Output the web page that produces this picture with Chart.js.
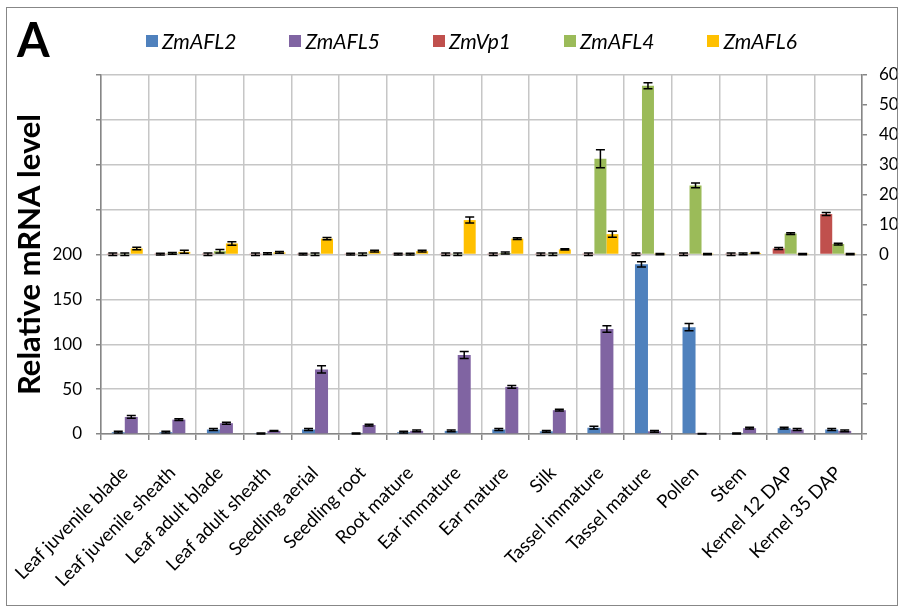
<!DOCTYPE html>
<html>
<head>
<meta charset="utf-8">
<script src="https://cdn.jsdelivr.net/npm/chart.js@4"></script>
<style>
  html, body { margin: 0; padding: 0; background: #fff; }
  #wrap { position: relative; width: 900px; height: 608px; font-family: Lato, sans-serif; }
  #frame { position: absolute; left: 6px; top: 7px; width: 892px; height: 599px; border: 1.5px solid #878787; box-sizing: border-box; pointer-events: none; }
  #panel { position: absolute; left: 17px; top: 11px; font-size: 47px; font-weight: bold; color: #000; }
  #legend { position: absolute; left: 146px; top: 28px; display: flex; gap: 53px; }
  .item { display: flex; align-items: center; font-size: 21px; font-style: italic; color: #000; }
  .box { width: 12px; height: 12px; margin-right: 4px; }
  canvas { position: absolute; left: 0; top: 0; }
</style>
</head>
<body>
<div id="wrap">
  <canvas id="myChart" width="900" height="608"></canvas>
  <div id="frame"></div>
  <div id="panel">A</div>
  <div id="legend"></div>
</div>
<script>
// tissues
const tissues = ['Leaf juvenile blade', 'Leaf juvenile sheath', 'Leaf adult blade', 'Leaf adult sheath',
  'Seedling aerial', 'Seedling root', 'Root mature', 'Ear immature', 'Ear mature', 'Silk',
  'Tassel immature', 'Tassel mature', 'Pollen', 'Stem', 'Kernel 12 DAP', 'Kernel 35 DAP']

// lower panel, left axis
const afl2 = [2, 2, 5, 0.5, 5, 0.5, 2, 3.5, 5, 3, 7, 189, 119, 0.5, 6.5, 5]
const afl2Err = [1, 1, 1, 0.5, 1, 0.5, 1, 1, 1, 1, 1.5, 3, 4, 0.5, 1, 1]
const afl5 = [19, 16, 12, 3.5, 72, 10, 3.5, 88, 52.5, 26.5, 117, 3, 0.3, 6.5, 5, 3.5]
const afl5Err = [1.5, 1, 1, 0.5, 4, 1, 1, 4, 1.5, 1, 3.5, 1, 0.3, 1, 1, 1]

// upper panel, right axis
const vp1 = [0.1, 0.1, 0.1, 0.1, 0.1, 0.1, 0.1, 0.1, 0.1, 0.1, 0.1, 0.1, 0.1, 0.1, 2.0, 13.5]
const vp1Err = [0.4, 0.3, 0.4, 0.4, 0.3, 0.3, 0.3, 0.4, 0.4, 0.4, 0.4, 0.4, 0.4, 0.4, 0.3, 0.5]
const afl4 = [0.1, 0.4, 1.1, 0.3, 0.1, 0.1, 0.1, 0.1, 0.5, 0.1, 32, 56.4, 23.1, 0.2, 7.0, 3.5]
const afl4Err = [0.4, 0.3, 0.6, 0.3, 0.4, 0.4, 0.3, 0.4, 0.3, 0.4, 3, 1, 0.8, 0.3, 0.3, 0.3]
const afl6 = [2.0, 0.9, 3.7, 0.7, 5.3, 1.1, 1.1, 11.5, 5.3, 1.7, 6.8, 0.1, 0.1, 0.5, 0.1, 0.1]
const afl6Err = [0.4, 0.5, 0.6, 0.3, 0.4, 0.3, 0.3, 1.0, 0.3, 0.2, 1.0, 0.2, 0.2, 0.2, 0.2, 0.2]

const names = ['ZmAFL2', 'ZmAFL5', 'ZmVp1', 'ZmAFL4', 'ZmAFL6']
const colors = ['#4F81BD', '#8064A2', '#C0504D', '#9BBB59', '#FFC000']

const leftTicks = [0, 50, 100, 150, 200]
const rightTicks = [0, 10, 20, 30, 40, 50, 60]

const gridGray = '#c6c6c6'
const axisGray = '#868686'

// error bars
const errorBars = {
  id: 'errorBars',
  afterDatasetsDraw(chart) {
    let ctx = chart.ctx
    chart.data.datasets.forEach((ds, i) => {
      let meta = chart.getDatasetMeta(i)
      let scale = chart.scales[ds.yAxisID]
      ctx.save()
      ctx.strokeStyle = '#000'
      ctx.lineWidth = 1.5
      meta.data.forEach((bar, j) => {
        let v = ds.data[j]
        let e = ds.errors[j]
        let yt = scale.getPixelForValue(v + e)
        let yb = scale.getPixelForValue(v - e)
        let x = bar.x
        ctx.beginPath()
        ctx.moveTo(x, yt); ctx.lineTo(x, yb)
        ctx.moveTo(x - 4.5, yt); ctx.lineTo(x + 4.5, yt)
        ctx.moveTo(x - 4.5, yb); ctx.lineTo(x + 4.5, yb)
        ctx.stroke()
      })
      ctx.restore()
    })
  }
}

// all datasets share 3 slots (stacks a, b, c); the lower pair uses the outer
// slots of a narrower category band with doubled bars so it sits centred
const lowerSet = (k, data, errors, stack) => ({
  label: names[k], data: data, errors: errors, backgroundColor: colors[k],
  yAxisID: 'y', stack: stack, categoryPercentage: 0.41, barPercentage: 2
})
const upperSet = (k, data, errors, stack) => ({
  label: names[k], data: data, errors: errors, backgroundColor: colors[k],
  yAxisID: 'y2', stack: stack, categoryPercentage: 0.756, barPercentage: 1
})

const canvas = document.querySelector('#myChart')
const chart = new Chart(canvas, {
  type: 'bar',
  data: {
    labels: tissues,
    datasets: [
      upperSet(2, vp1, vp1Err, 'a'),
      upperSet(3, afl4, afl4Err, 'b'),
      upperSet(4, afl6, afl6Err, 'c'),
      lowerSet(0, afl2, afl2Err, 'a'),
      lowerSet(1, afl5, afl5Err, 'c'),
    ],
  },
  options: {
    responsive: false,
    animation: false,
    layout: { padding: { top: 75, left: 0, right: 0, bottom: 0 } },
    plugins: { legend: { display: false }, tooltip: { enabled: false } },
    scales: {
      x: {
        position: 'bottom',
        grid: { color: gridGray, lineWidth: 1.5, tickColor: axisGray, tickLength: 6, offset: true },
        border: { color: axisGray, width: 1.5 },
        ticks: {
          autoSkip: false, minRotation: 45, maxRotation: 45, padding: 22,
          color: '#000', font: { family: 'Lato', size: 18.5 }
        },
        afterFit: (s) => { s.height = 174; s.paddingLeft = 0; s.paddingRight = 0 }
      },
      y: {
        position: 'left', min: 0, max: 400, stacked: false,
        grid: { color: gridGray, lineWidth: 1.5, tickColor: axisGray, tickLength: 5 },
        border: { color: axisGray, width: 1.5 },
        ticks: {
          stepSize: 50, padding: 14, color: '#000', font: { family: 'Lato', size: 17 },
          callback: (v) => leftTicks.includes(v) ? String(v) : ''
        },
        title: {
          display: true, text: 'Relative mRNA level', color: '#000',
          font: { family: 'Lato', size: 31, weight: 'bold' }, padding: { top: 11, bottom: 0 }
        },
        afterFit: (s) => { s.width = 101 }
      },
      y2: {
        position: 'right', min: -60, max: 60, stacked: false,
        grid: { drawOnChartArea: false, tickColor: axisGray, tickLength: 5, lineWidth: 1.5 },
        border: { color: axisGray, width: 1.5 },
        ticks: {
          stepSize: 10, padding: 12, color: '#000', font: { family: 'Lato', size: 17 },
          callback: (v) => rightTicks.includes(v) ? String(v) : ''
        },
        afterFit: (s) => { s.width = 38 }
      }
    }
  },
  plugins: [errorBars]
})

// legend
let legend = document.querySelector('#legend')
names.forEach((n, k) => {
  let item = document.createElement('div')
  item.className = 'item'
  item.innerHTML = `<span class="box" style="background:${colors[k]}"></span><span>${n}</span>`
  legend.appendChild(item)
})
</script>
</body>
</html>
